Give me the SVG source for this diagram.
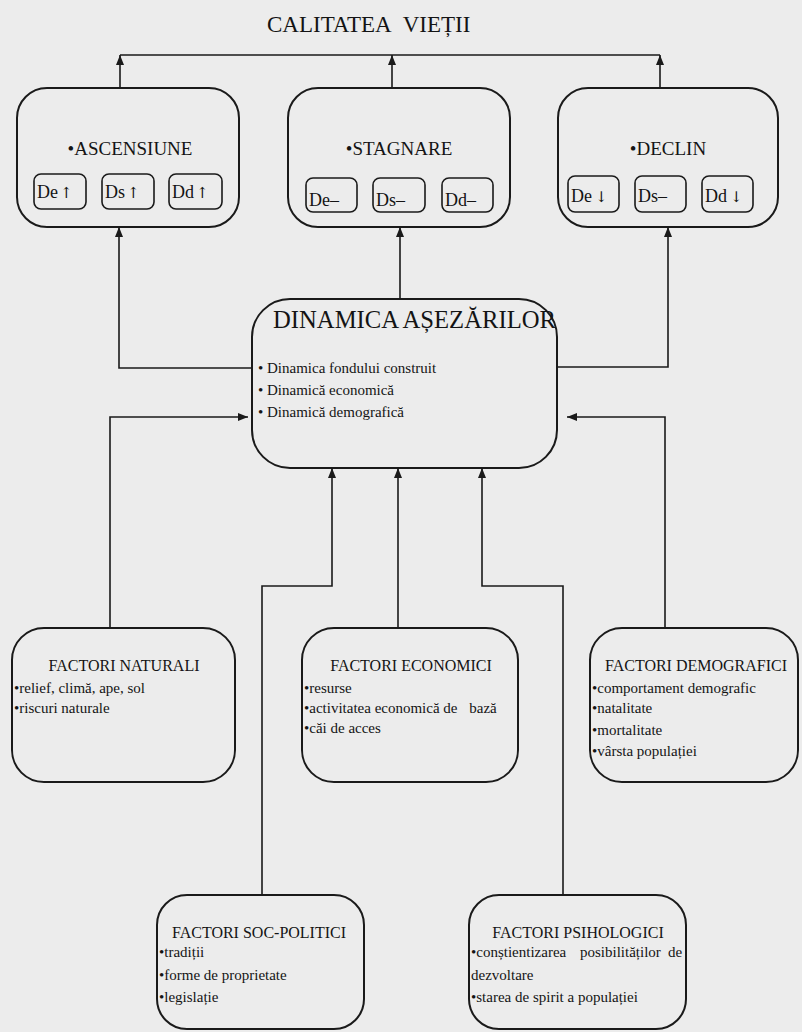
<svg xmlns="http://www.w3.org/2000/svg" width="802" height="1032" viewBox="0 0 802 1032">
<defs>
<style>
.bg{fill:#ececec}
.box{fill:none;stroke:#1a1a1a;stroke-width:2}
.sbox{fill:none;stroke:#1a1a1a;stroke-width:1.6}
.conn{fill:none;stroke:#1a1a1a;stroke-width:1.6}
text{font-family:"Liberation Serif","DejaVu Serif",serif;fill:#141414}
.ar{font-family:"DejaVu Serif","Liberation Serif",serif;font-size:15px}
.title{font-size:23px;word-spacing:7px}
.state{font-size:19px;text-anchor:middle}
.sm{font-size:18px}
.main{font-size:26px}
.mb{font-size:15px}
.ft{font-size:16px;text-anchor:middle}
.fb{font-size:15px}
</style>
<marker id="ah" viewBox="0 0 10 8" refX="10" refY="4" markerWidth="10" markerHeight="8" markerUnits="userSpaceOnUse" orient="auto">
<path d="M0,0 L10,4 L0,8 z" fill="#1a1a1a"/>
</marker>
</defs>
<rect class="bg" x="0" y="0" width="802" height="1032"/>

<g id="calitatea">
<text class="title" x="267" y="32">CALITATEA VIEȚII</text>
</g>

<g id="ascensiune">
<rect class="box" x="17" y="88" width="222" height="139" rx="30"/>
<text class="state" x="130" y="155">•ASCENSIUNE</text>
<rect class="sbox" x="34" y="174" width="52" height="35" rx="7"/>
<text class="sm" x="37" y="198">De<tspan class="ar" dx="2">↑</tspan></text>
<rect class="sbox" x="102" y="174" width="52" height="35" rx="7"/>
<text class="sm" x="105" y="198">Ds<tspan class="ar" dx="2">↑</tspan></text>
<rect class="sbox" x="169" y="174" width="53" height="35" rx="7"/>
<text class="sm" x="172" y="198">Dd<tspan class="ar" dx="2">↑</tspan></text>
</g>

<g id="stagnare">
<rect class="box" x="288" y="88" width="222" height="139" rx="30"/>
<text class="state" x="399" y="155">•STAGNARE</text>
<rect class="sbox" x="306" y="178" width="51" height="34" rx="7"/>
<text class="sm" x="309" y="206">De–</text>
<rect class="sbox" x="373" y="178" width="52" height="34" rx="7"/>
<text class="sm" x="376" y="206">Ds–</text>
<rect class="sbox" x="442" y="178" width="51" height="34" rx="7"/>
<text class="sm" x="445" y="206">Dd–</text>
</g>

<g id="declin">
<rect class="box" x="558" y="88" width="220" height="139" rx="30"/>
<text class="state" x="668" y="155">•DECLIN</text>
<rect class="sbox" x="568" y="176" width="51" height="36" rx="7"/>
<text class="sm" x="571" y="202">De<tspan class="ar" dx="3">↓</tspan></text>
<rect class="sbox" x="635" y="176" width="51" height="36" rx="7"/>
<text class="sm" x="638" y="202">Ds–</text>
<rect class="sbox" x="702" y="176" width="51" height="36" rx="7"/>
<text class="sm" x="705" y="202">Dd<tspan class="ar" dx="3">↓</tspan></text>
</g>

<g id="dinamica">
<rect class="box" x="252" y="299" width="305" height="169" rx="38"/>
<text class="main" x="273" y="328" textLength="283" lengthAdjust="spacingAndGlyphs">DINAMICA AȘEZĂRILOR</text>
<text class="mb" x="258" y="373">• Dinamica fondului construit</text>
<text class="mb" x="258" y="395">• Dinamică economică</text>
<text class="mb" x="258" y="417">• Dinamică demografică</text>
</g>

<g id="naturali">
<rect class="box" x="12" y="628" width="223" height="154" rx="32"/>
<text class="ft" x="124" y="671">FACTORI NATURALI</text>
<text class="fb" x="14" y="693">•relief, climă, ape, sol</text>
<text class="fb" x="14" y="713">•riscuri naturale</text>
</g>

<g id="economici">
<rect class="box" x="302" y="628" width="216" height="154" rx="32"/>
<text class="ft" x="411" y="671">FACTORI ECONOMICI</text>
<text class="fb" x="304" y="693">•resurse</text>
<text class="fb" x="304" y="713">•activitatea economică de <tspan dx="8">bază</tspan></text>
<text class="fb" x="304" y="733">•căi de acces</text>
</g>

<g id="demografici">
<rect class="box" x="590" y="628" width="208" height="154" rx="32"/>
<text class="ft" x="696" y="671">FACTORI DEMOGRAFICI</text>
<text class="fb" x="592" y="693">•comportament demografic</text>
<text class="fb" x="592" y="713">•natalitate</text>
<text class="fb" x="592" y="735">•mortalitate</text>
<text class="fb" x="592" y="756">•vârsta populației</text>
</g>

<g id="socpolitici">
<rect class="box" x="157" y="895" width="207" height="134" rx="30"/>
<text class="ft" x="259" y="938">FACTORI SOC-POLITICI</text>
<text class="fb" x="159" y="957">•tradiții</text>
<text class="fb" x="159" y="980">•forme de proprietate</text>
<text class="fb" x="159" y="1002">•legislație</text>
</g>

<g id="psihologici">
<rect class="box" x="469" y="895" width="217" height="134" rx="30"/>
<text class="ft" x="578" y="938">FACTORI PSIHOLOGICI</text>
<text class="fb" y="957"><tspan x="471">•conștientizarea</tspan><tspan x="580">posibilităților</tspan><tspan x="668">de</tspan></text>
<text class="fb" x="471" y="980">dezvoltare</text>
<text class="fb" x="471" y="1002">•starea de spirit a populației</text>
</g>

<g id="connectors">
<path class="conn" d="M120,55 H660"/>
<path class="conn" d="M120,88 V55" marker-end="url(#ah)"/>
<path class="conn" d="M392,88 V55" marker-end="url(#ah)"/>
<path class="conn" d="M660,88 V55" marker-end="url(#ah)"/>
<path class="conn" d="M252,368 H119 V227" marker-end="url(#ah)"/>
<path class="conn" d="M400,299 V227" marker-end="url(#ah)"/>
<path class="conn" d="M557,367 H668 V227" marker-end="url(#ah)"/>
<path class="conn" d="M110,628 V417 H248" marker-end="url(#ah)"/>
<path class="conn" d="M665,628 V417 H567" marker-end="url(#ah)"/>
<path class="conn" d="M262,895 V586 H332 V468" marker-end="url(#ah)"/>
<path class="conn" d="M398,628 V468" marker-end="url(#ah)"/>
<path class="conn" d="M563,895 V586 H482 V468" marker-end="url(#ah)"/>
</g>
</svg>
